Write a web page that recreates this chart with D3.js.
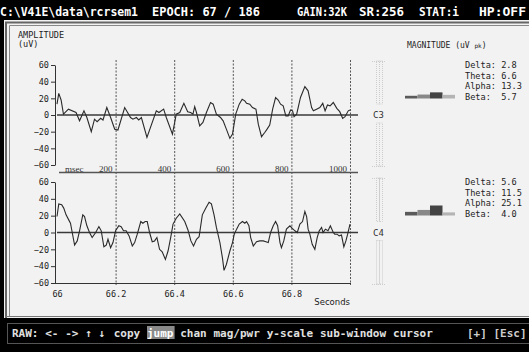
<!DOCTYPE html>
<html>
<head>
<meta charset="utf-8">
<script src="https://cdn.jsdelivr.net/npm/d3@7"></script>
<style>
  body { margin: 0; background: #000; }
  svg { display: block; }
</style>
</head>
<body>
<div id="chart"></div>
<script>
// trace C3 : time (msec) / amplitude (uV)
const c3Times = [0, 6, 14, 22, 39, 65, 77, 92, 102, 117, 128, 137, 149, 157, 170, 183, 197, 208, 231, 251,
  259, 271, 279, 288, 307, 339, 348, 364, 373, 394, 407, 419, 433, 446, 456, 464, 470, 476, 487, 498,
  510, 524, 533, 544, 558, 567, 578, 590, 599, 610, 622, 632, 641, 647, 658, 667, 679, 687, 698, 709,
  717, 726, 736, 746, 755, 763, 772, 781, 789, 797, 804, 809, 818, 831, 846, 857, 869, 875, 886, 897,
  907, 915, 923, 932, 943, 955, 965, 975, 983, 994, 1000];
const c3Values = [13, 26, 18, 1, 7, 3, -7, 5, -3, -20, -5, -8, -4, -6, 9, -3, -17, -18, 9, -3,
  -5, -3, -6, -3, -27, 5, 3, 7, -3, -23, 1, 3, 14, 4, 3, 1, 10, 3, -13, -9,
  3, 15, 13, 1, -3, -7, -17, -28, -23, 1, 13, 19, 17, 14, 13, 9, 7, -11, -26, -21,
  -17, -12, 7, 21, 18, 13, 11, -1, -1, 6, 5, -2, 1, 21, 34, 29, 9, 5, 7, 9,
  14, 5, 12, 11, 15, 8, 4, -4, -2, 5, 6];

// trace C4
const c4Times = [0, 6, 16, 23, 31, 40, 46, 60, 69, 77, 88, 94, 102, 111, 120, 132, 143, 151, 160, 168,
  174, 183, 191, 200, 211, 219, 227, 236, 246, 257, 265, 274, 286, 293, 301, 308, 316, 325, 333, 341,
  350, 359, 370, 379, 388, 396, 407, 419, 436, 447, 457, 466, 476, 485, 496, 508, 519, 527, 536, 544,
  556, 565, 570, 578, 590, 599, 605, 613, 622, 633, 641, 647, 655, 661, 670, 681, 692, 704, 713, 721,
  729, 738, 746, 753, 761, 766, 774, 783, 795, 803, 812, 820, 829, 838, 846, 852, 857, 863, 871, 880,
  888, 895, 903, 908, 916, 925, 933, 943, 948, 956, 963, 971, 979, 986, 992, 1000];
const c4Values = [19, 34, 33, 29, 21, 15, 11, -15, -10, 2, 21, 19, 8, 0, -6, 0, 7, 2, -17, -15,
  -8, -18, -12, 2, 8, 7, 2, 2, -4, -16, -12, -2, 13, 11, 13, 13, 0, -11, -10, -6,
  -20, -23, -32, -22, -6, 10, 17, 22, 13, 3, -10, -16, -8, -5, 21, 29, 36, 34, 21, 6,
  -12, -31, -45, -38, -22, -12, -2, 4, 10, 13, 11, 13, 8, -6, -16, -11, -10, -10, -11, -12,
  0, 8, 13, 8, -12, -18, -10, 4, 8, 5, 2, 0, 10, 13, 25, 19, 4, -2, -14, -20,
  -6, 2, 6, 0, 4, 2, 8, 0, -2, -2, -4, -3, -17, -10, -2, 10];

const bandNames = ["Delta", "Theta", "Alpha", "Beta"];
const c3Mags = [2.8, 6.6, 13.3, 5.7];
const c4Mags = [5.6, 11.5, 25.1, 4.0];

const yTicks = [60, 40, 20, 0, -20, -40, -60];
const msecTicks = [200, 400, 600, 800, 1000];
const secTicks = [66, 66.2, 66.4, 66.6, 66.8];

const W = 529, H = 352;
const mono = "'DejaVu Sans Mono', monospace";

const svg = d3.select("#chart").append("svg")
  .attr("width", W)
  .attr("height", H);

// top status bar
svg.append("rect").attr("x", 0).attr("y", 0).attr("width", W).attr("height", 20).attr("fill", "#000");
const header = [
  { t: "C:\\V41E\\data\\rcrsem1", x: 0, w: 138 },
  { t: "EPOCH: 67 / 186", x: 152, w: 108 },
  { t: "GAIN:32K", x: 297, w: 50 },
  { t: "SR:256", x: 359, w: 45 },
  { t: "STAT:i", x: 419, w: 40 },
  { t: "HP:OFF", x: 479, w: 47 }
];
svg.selectAll(".hdr").data(header).enter().append("text")
  .attr("x", d => d.x)
  .attr("y", 16)
  .attr("textLength", d => d.w)
  .attr("lengthAdjust", "spacingAndGlyphs")
  .style("font-family", mono)
  .style("font-weight", "bold")
  .style("font-size", "12px")
  .style("fill", "#fff")
  .text(d => d.t);

// main panel
svg.append("rect").attr("x", 4).attr("y", 20).attr("width", W - 4).attr("height", 298).attr("fill", "#f2f2f2");
svg.append("path").attr("d", `M6,318V22.5H${W}`).attr("fill", "none").attr("stroke", "#666").attr("stroke-width", 2);
svg.append("path").attr("d", `M9.5,316V25.5H${W}`).attr("fill", "none").attr("stroke", "#888").attr("stroke-width", 1);
svg.append("path").attr("d", `M6,316.5H${W}`).attr("stroke", "#777").attr("stroke-width", 1);

// bottom command bar
svg.append("rect").attr("x", 0).attr("y", 319).attr("width", W).attr("height", H - 319).attr("fill", "#000");
svg.append("rect").attr("x", 7.5).attr("y", 323.5).attr("width", W).attr("height", 20)
  .attr("fill", "none").attr("stroke", "#555");

const x = d3.scaleLinear().domain([0, 1000]).range([57, 350]);
const xs = d3.scaleLinear().domain([66, 67]).range([57, 350]);

const channels = [
  { name: "C3", times: c3Times, values: c3Values, mags: c3Mags, top: 65, bottom: 165, slTop: 61, slBot: 166 },
  { name: "C4", times: c4Times, values: c4Values, mags: c4Mags, top: 182, bottom: 283, slTop: 178, slBot: 284 }
];

svg.append("text").attr("x", 18).attr("y", 38)
  .style("font-family", mono).style("font-size", "8.5px").style("fill", "#222").text("AMPLITUDE");
svg.append("text").attr("x", 18).attr("y", 47)
  .style("font-family", mono).style("font-size", "8.5px").style("fill", "#222").text("(uV)");

const mag = svg.append("text").attr("x", 407).attr("y", 48)
  .style("font-family", mono).style("font-size", "8px").style("fill", "#222");
mag.append("tspan").text("MAGNITUDE (uV ");
mag.append("tspan").style("font-size", "6px").text("pk");
mag.append("tspan").text(")");

// dashed time grid through both plots
svg.selectAll(".grid").data(msecTicks).enter().append("line")
  .attr("x1", d => x(d) + 0.5).attr("x2", d => x(d) + 0.5)
  .attr("y1", 60).attr("y2", 285)
  .attr("stroke", "#555").attr("stroke-width", 1).attr("stroke-dasharray", "2,1.5");

const barX = d3.scaleBand().domain(bandNames).range([405, 455]);
const barH = d3.scaleLinear().domain([0, 25.1]).range([1.8, 10]);
const barColor = d3.scaleOrdinal().domain(bandNames).range(["#5a5a5a", "#888", "#444", "#b4b4b4"]);
const cwBand = 5.17;

channels.forEach(ch => {
  const y = d3.scaleLinear().domain([-60, 60]).range([ch.bottom, ch.top]);

  const yAxis = svg.append("g")
    .attr("transform", "translate(55,0)")
    .call(d3.axisLeft(y).tickValues(yTicks).tickSize(4).tickSizeOuter(0).tickPadding(2));
  yAxis.selectAll("path, line").attr("stroke", "#333");
  yAxis.selectAll("text").style("font-family", mono).style("font-size", "8.5px").style("fill", "#222");

  svg.append("line")
    .attr("x1", 57).attr("x2", 358)
    .attr("y1", y(0)).attr("y2", y(0))
    .attr("stroke", "#3a3a3a").attr("stroke-width", 1.3);

  const line = d3.line()
    .x((d, i) => x(ch.times[i]))
    .y(d => y(d));

  svg.append("path")
    .datum(ch.values)
    .attr("d", line)
    .attr("fill", "none")
    .attr("stroke", "#2a2a2a")
    .attr("stroke-width", 1.1);

  // y-scale slider at right
  const sl = svg.append("g").attr("stroke", "#cdcdcd").attr("stroke-dasharray", "1,1").attr("fill", "none");
  const mid = y(0);
  [[ch.slTop, mid - 11], [mid + 8, ch.slBot]].forEach(seg => {
    sl.append("rect").attr("x", 376.5).attr("y", seg[0]).attr("width", 3).attr("height", seg[1] - seg[0]);
    sl.append("rect").attr("x", 379.5).attr("y", seg[0]).attr("width", 3).attr("height", seg[1] - seg[0]);
  });
  sl.append("line").attr("x1", 372).attr("x2", 386).attr("y1", ch.slTop + 0.5).attr("y2", ch.slTop + 0.5);
  sl.append("line").attr("x1", 372).attr("x2", 386).attr("y1", ch.slBot + 0.5).attr("y2", ch.slBot + 0.5);

  svg.append("text").attr("x", 378.5).attr("y", mid + 3)
    .attr("text-anchor", "middle")
    .style("font-family", mono).style("font-size", "9px").style("fill", "#333")
    .text(ch.name);

  // band magnitude bars
  const base = ch.top + 33.5;
  svg.selectAll(".bar" + ch.name).data(ch.mags).enter().append("rect")
    .attr("x", (d, i) => barX(bandNames[i]))
    .attr("width", barX.bandwidth())
    .attr("y", d => base - barH(d))
    .attr("height", d => barH(d))
    .attr("fill", (d, i) => barColor(bandNames[i]));

  const rows = svg.selectAll(".row" + ch.name).data(ch.mags).enter().append("g")
    .attr("transform", (d, i) => `translate(0,${ch.top + 3 + i * 10.5})`);
  rows.append("text").attr("x", 465)
    .style("font-family", mono).style("font-size", "8.6px").style("fill", "#222")
    .text((d, i) => bandNames[i] + ":");
  rows.append("text").attr("x", 465 + 7 * cwBand)
    .style("font-family", mono).style("font-size", "8.6px").style("fill", "#222")
    .text(d => d3.format(".1f")(d));
});

// msec ruler under C3
svg.append("line").attr("x1", 59).attr("x2", 358).attr("y1", 172.5).attr("y2", 172.5)
  .attr("stroke", "#555").attr("stroke-width", 1.6);
svg.append("text").attr("x", 65).attr("y", 172)
  .style("font-family", "'Liberation Serif', serif").style("font-size", "9px").style("fill", "#333")
  .text("msec");
svg.selectAll(".ms").data(msecTicks).enter().append("text")
  .attr("x", d => x(d) - 3)
  .attr("y", 172)
  .attr("text-anchor", "end")
  .style("font-family", "'Liberation Serif', serif").style("font-size", "9px").style("fill", "#333")
  .text(d => d);

// seconds axis under C4
const xAxis = svg.append("g")
  .attr("transform", "translate(0,283)")
  .call(d3.axisBottom(xs).tickValues(secTicks).tickSize(0).tickPadding(8).tickFormat(d3.format("")));
xAxis.select(".domain").attr("d", "M55,0.5H351").attr("stroke", "#333");
xAxis.selectAll("text").style("font-family", mono).style("font-size", "8.5px").style("fill", "#222");
svg.append("text").attr("x", 350).attr("y", 305).attr("text-anchor", "end")
  .style("font-family", "'DejaVu Sans', sans-serif").style("font-size", "8.5px").style("fill", "#222")
  .text("Seconds");

// command line
const cmd = ["RAW:", "<-", "->", "↑", "↓", "copy", "jump", "chan", "mag/pwr", "y-scale", "sub-window", "cursor"];
const cw = 6.65;
let pos = 0;
const cmdPos = cmd.map(c => { const p = pos; pos += c.length + 1; return p; });
svg.append("rect").attr("x", 12 + cmdPos[6] * cw + 2).attr("y", 326).attr("width", 4 * cw + 1).attr("height", 13)
  .attr("fill", "#8a8a8a");
svg.selectAll(".cmd").data(cmd).enter().append("text")
  .attr("x", (d, i) => 12 + cmdPos[i] * cw + (i >= 5 ? 2 : 0))
  .attr("y", 337)
  .style("font-family", mono).style("font-weight", "bold").style("font-size", "11px")
  .style("fill", (d, i) => i === 6 ? "#fff" : "#e0e0e0")
  .text(d => d);
svg.append("text").attr("x", 467).attr("y", 337)
  .style("font-family", mono).style("font-weight", "bold").style("font-size", "11px").style("fill", "#ccc")
  .text("[+] [Esc]");
</script>
</body>
</html>
